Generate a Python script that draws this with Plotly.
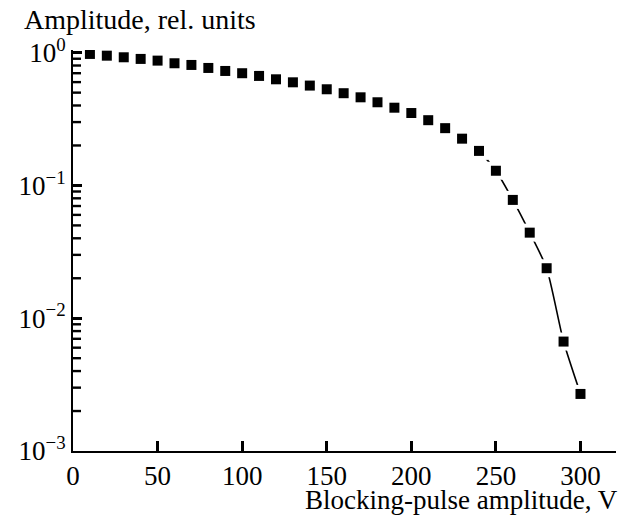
import plotly.graph_objects as go

# Data
voltage = [10, 20, 30, 40, 50, 60, 70, 80, 90, 100,
           110, 120, 130, 140, 150, 160, 170, 180, 190, 200,
           210, 220, 230, 240, 250, 260, 270, 280, 290, 300]
amplitude = [0.978, 0.949, 0.923, 0.897, 0.871, 0.832, 0.808, 0.767, 0.728, 0.700,
             0.668, 0.630, 0.598, 0.565, 0.530, 0.495, 0.461, 0.423, 0.385, 0.351,
             0.310, 0.270, 0.225, 0.182, 0.129, 0.0778, 0.0441, 0.0238, 0.00667, 0.00269]

x_tick_vals = [0, 50, 100, 150, 200, 250, 300]
y_tick_vals = [1e-3, 1e-2, 1e-1, 1]
y_tick_text = ["10<sup>−3</sup>", "10<sup>−2</sup>", "10<sup>−1</sup>", "10<sup>0</sup>"]
y_minor_vals = [m * 10 ** e for e in (-3, -2, -1) for m in range(2, 10)]

FONT = "Liberation Serif"
X_MAX = 321
PLOT_W = 625 - 73 - 9
MINOR_LEN = 8 * X_MAX / PLOT_W  # 8 px expressed in x-axis units

fig = go.Figure()
fig.add_trace(go.Scatter(
    x=voltage, y=amplitude, mode="lines",
    line=dict(color="black", width=1.6, shape="spline", smoothing=0.6),
    hoverinfo="skip", showlegend=False))
fig.add_trace(go.Scatter(
    x=voltage, y=amplitude, mode="markers",
    marker=dict(symbol="square", size=18, color="white", line=dict(width=0)),
    hoverinfo="skip", showlegend=False))
fig.add_trace(go.Scatter(
    x=voltage, y=amplitude, mode="markers",
    marker=dict(symbol="square", size=10, color="black", line=dict(width=0)),
    showlegend=False))

# minor log ticks on the y axis (inside), drawn as short line segments
mx, my = [], []
for v in y_minor_vals:
    mx += [0, MINOR_LEN, None]
    my += [v, v, None]
fig.add_trace(go.Scatter(
    x=mx, y=my, mode="lines", line=dict(color="black", width=2.4),
    hoverinfo="skip", showlegend=False, cliponaxis=False))

fig.update_layout(
    width=625, height=517,
    margin=dict(l=73, r=9, t=50, b=66),
    paper_bgcolor="white", plot_bgcolor="white",
    font=dict(family=FONT, color="black", size=27),
    xaxis=dict(
        range=[0, X_MAX], tickmode="array", tickvals=x_tick_vals,
        ticks="inside", ticklen=10, tickwidth=2.5, tickcolor="black",
        showline=True, linewidth=2, linecolor="black",
        showgrid=False, zeroline=False,
        tickfont=dict(family=FONT, size=27, color="black")),
    yaxis=dict(
        type="log", range=[-3, 0.02], tickmode="array",
        tickvals=y_tick_vals, ticktext=y_tick_text,
        ticks="inside", ticklen=9, tickwidth=2.5, tickcolor="black",
        showline=True, linewidth=2, linecolor="black",
        showgrid=False, zeroline=False,
        tickfont=dict(family=FONT, size=27, color="black")),
    annotations=[
        dict(text="Amplitude, rel. units", xref="paper", yref="paper",
             x=-0.094, y=1.077, xanchor="left", yanchor="middle",
             showarrow=False, font=dict(family=FONT, size=28, color="black")),
        dict(text="Blocking-pulse amplitude, V", xref="paper", yref="paper",
             x=1.0074, y=-0.122, xanchor="right", yanchor="middle",
             showarrow=False, font=dict(family=FONT, size=27, color="black")),
    ],
)

fig.write_html("out.html")
